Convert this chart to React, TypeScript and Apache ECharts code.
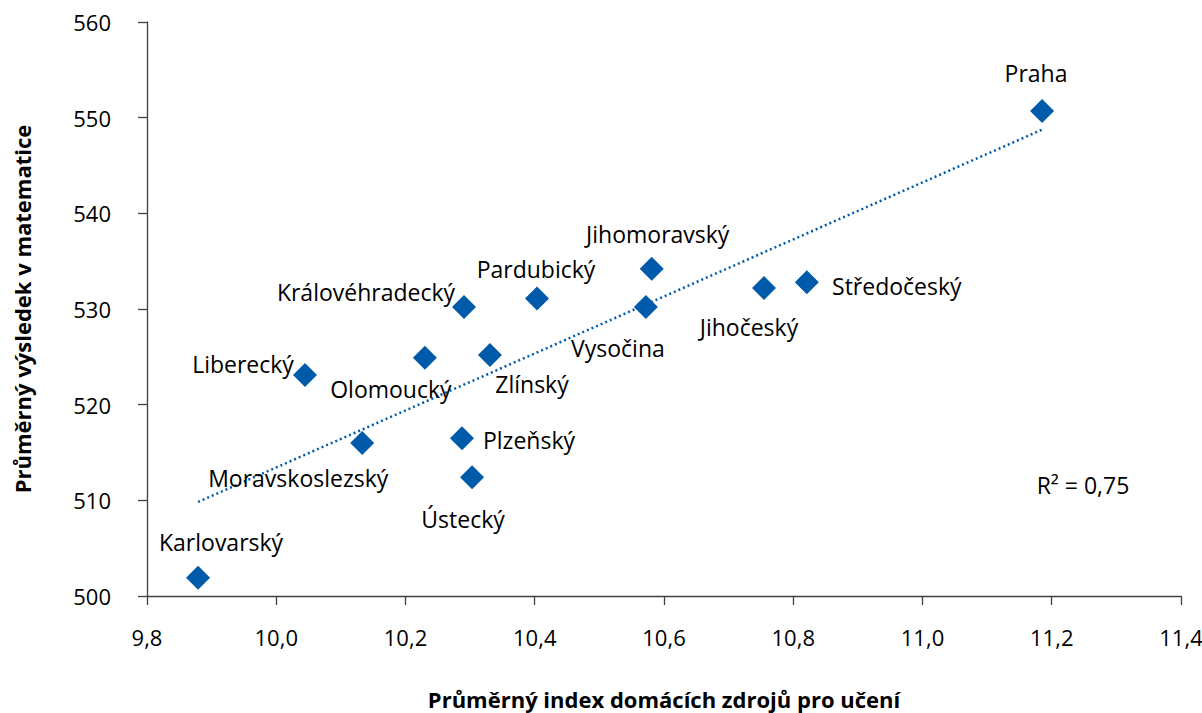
import React, { useEffect, useRef } from "react";
import * as echarts from "echarts";

const regions = [
  "Karlovarský", "Liberecký", "Moravskoslezský", "Olomoucký", "Královéhradecký",
  "Zlínský", "Plzeňský", "Ústecký", "Pardubický", "Jihomoravský", "Vysočina",
  "Jihočeský", "Středočeský", "Praha",
];
const indexValues = [
  9.879, 10.0445, 10.133, 10.23, 10.2905, 10.3307, 10.2874, 10.303, 10.4035,
  10.581, 10.572, 10.7547, 10.821, 11.185,
];
const mathScores = [
  501.9, 523.1, 516.0, 524.9, 530.2, 525.2, 516.5, 512.4, 531.1, 534.2, 530.2,
  532.2, 532.8, 550.7,
];
const xTicks = { min: 9.8, max: 11.4, interval: 0.2 };
const yTicks = { min: 500, max: 560, interval: 10 };
const rSquaredText = "R² = 0,75";
const xTitle = "Průměrný index domácích zdrojů pro učení";
const yTitle = "Průměrný výsledek v matematice";

// label offsets (layout only) relative to marker centre
const labelOffsets: [number, number][] = [
  [23, -36], [-62, -11], [-64, 35], [-34, 31], [-98, -15], [42, 29], [67, 2],
  [-9, 42], [-1, -29], [6, -35], [-28, 41], [-15, 39], [90, 4], [-6, -38],
];

const FONT = "'Open Sans', sans-serif";
const BLUE = "#005AAA";

function regression(xs: number[], ys: number[]) {
  const n = xs.length;
  const mx = xs.reduce((a, b) => a + b, 0) / n;
  const my = ys.reduce((a, b) => a + b, 0) / n;
  let sxy = 0;
  let sxx = 0;
  for (let i = 0; i < n; i++) {
    sxy += (xs[i] - mx) * (ys[i] - my);
    sxx += (xs[i] - mx) * (xs[i] - mx);
  }
  const slope = sxy / sxx;
  return { slope, intercept: my - slope * mx };
}

export default function App() {
  const ref = useRef<HTMLDivElement>(null);
  useEffect(() => {
    if (!ref.current) return;
    const chart = echarts.init(ref.current, undefined, { renderer: "svg" });
    const { slope, intercept } = regression(indexValues, mathScores);
    const xmin = Math.min(...indexValues);
    const xmax = Math.max(...indexValues);
    const trend = [
      [xmin, slope * xmin + intercept],
      [xmax, slope * xmax + intercept],
    ];
    const pts = regions.map((name, i) => ({
      name,
      value: [indexValues[i], mathScores[i]],
      label: { offset: labelOffsets[i] },
    }));
    chart.setOption({
      animation: false,
      backgroundColor: "#fff",
      grid: {
        left: 147,
        right: 21,
        top: 22,
        bottom: 117,
        containLabel: false,
        outerBoundsMode: "none",
      },
      xAxis: {
        type: "value",
        min: xTicks.min,
        max: xTicks.max,
        interval: xTicks.interval,
        name: xTitle,
        nameLocation: "middle",
        nameGap: 92,
        nameTextStyle: {
          fontFamily: FONT,
          fontSize: 22,
          lineHeight: 22,
          fontWeight: "bold",
          color: "#000",
        },
        axisLine: { show: true, lineStyle: { color: "#404040", width: 1.3 } },
        axisTick: { show: true, length: 9, lineStyle: { color: "#404040", width: 1.3 } },
        splitLine: { show: false },
        axisLabel: {
          fontFamily: FONT,
          fontSize: 22,
          color: "#000",
          margin: 30,
          formatter: (v: number) => v.toFixed(1).replace(".", ","),
        },
      },
      yAxis: {
        type: "value",
        min: yTicks.min,
        max: yTicks.max,
        interval: yTicks.interval,
        name: yTitle,
        nameLocation: "middle",
        nameGap: 114,
        nameRotate: 90,
        nameTextStyle: { fontFamily: FONT, fontSize: 22, fontWeight: "bold", color: "#000" },
        axisLine: { show: true, lineStyle: { color: "#404040", width: 1.3 } },
        axisTick: { show: true, length: 9, lineStyle: { color: "#404040", width: 1.3 } },
        splitLine: { show: false },
        axisLabel: { fontFamily: FONT, fontSize: 22, color: "#000", margin: 36 },
      },
      series: [
        {
          type: "line",
          data: trend,
          showSymbol: false,
          symbol: "none",
          z: 1,
          lineStyle: { color: BLUE, width: 2.5, type: [2, 3] },
          silent: true,
        },
        {
          type: "scatter",
          data: pts,
          symbol: "diamond",
          symbolSize: 24,
          z: 3,
          itemStyle: { color: BLUE, opacity: 1 },
          label: {
            show: true,
            position: "inside",
            formatter: "{b}",
            fontFamily: FONT,
            fontSize: 23,
            color: "#000",
          },
        },
      ],
      graphic: [
        {
          type: "text",
          x: 1083,
          y: 485,
          style: {
            text: rSquaredText,
            font: `23px ${FONT}`,
            fill: "#000",
            align: "center",
            verticalAlign: "middle",
          },
        },
      ],
    });
    return () => chart.dispose();
  }, []);
  return (
    <div
      ref={ref}
      style={{ position: "fixed", left: 0, top: 0, width: 1202, height: 713 }}
    />
  );
}
